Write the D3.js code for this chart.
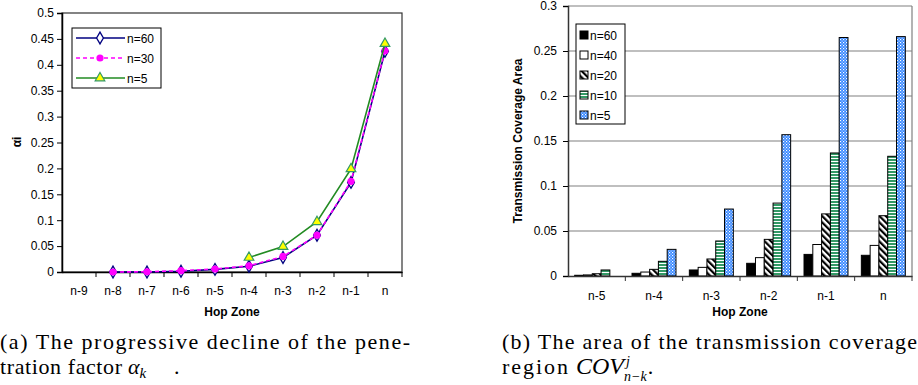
<!DOCTYPE html>
<html>
<head>
<meta charset="utf-8">
<script src="https://cdn.jsdelivr.net/npm/d3@7"></script>
<style>
  body { margin: 0; background: #fff; }
  svg { display: block; }
  .tk text { font-family: "Liberation Sans", Arial, sans-serif; font-size: 12px; fill: #000; }
  .ttl { font-family: "Liberation Sans", Arial, sans-serif; font-size: 12px; font-weight: bold; }
  .cap { font-family: "Liberation Serif", serif; font-size: 22px; }
</style>
</head>
<body>
<svg id="chart" width="918" height="385"></svg>
<script>
// ---- data: left chart (penetration factor)
var zones = ["n-9", "n-8", "n-7", "n-6", "n-5", "n-4", "n-3", "n-2", "n-1", "n"];
var alpha60 = [null, 0, 0, 0.0015, 0.005, 0.011, 0.028, 0.071, 0.173, 0.426];
var alpha30 = [null, 0, 0.0005, 0.0025, 0.0058, 0.012, 0.030, 0.071, 0.175, 0.427];
var alpha5  = [null, null, null, null, null, 0.028, 0.049, 0.097, 0.199, 0.441];
var leftTicks = [0, 0.05, 0.1, 0.15, 0.2, 0.25, 0.3, 0.35, 0.4, 0.45, 0.5];

// ---- data: right chart (coverage area)
var barZones = ["n-5", "n-4", "n-3", "n-2", "n-1", "n"];
var barSeries = ["n=60", "n=40", "n=20", "n=10", "n=5"];
var cov60 = [0.0008, 0.003, 0.0067, 0.0141, 0.024, 0.023];
var cov40 = [0.0012, 0.0044, 0.0096, 0.0204, 0.035, 0.034];
var cov20 = [0.0025, 0.0074, 0.0189, 0.0407, 0.069, 0.067];
var cov10 = [0.0067, 0.0163, 0.0389, 0.081, 0.1367, 0.133];
var cov5  = [0, 0.0296, 0.0744, 0.157, 0.265, 0.266];
var rightTicks = [0, 0.05, 0.1, 0.15, 0.2, 0.25, 0.3];

var svg = d3.select("#chart");
var fmt = function(d) { return String(+d.toFixed(2)); };

// patterns for bars
var defs = svg.append("defs");
var hatch = defs.append("pattern").attr("id", "hatch").attr("patternUnits", "userSpaceOnUse")
  .attr("width", 4.5).attr("height", 4.5).attr("patternTransform", "rotate(-45)");
hatch.append("rect").attr("width", 4.5).attr("height", 4.5).attr("fill", "#fff");
hatch.append("rect").attr("width", 2.2).attr("height", 4.5).attr("fill", "#000");

var stripes = defs.append("pattern").attr("id", "stripes").attr("patternUnits", "userSpaceOnUse")
  .attr("width", 4).attr("height", 3);
stripes.append("rect").attr("width", 4).attr("height", 3).attr("fill", "#fff");
stripes.append("rect").attr("width", 4).attr("height", 2).attr("fill", "#339966");

var checks = defs.append("pattern").attr("id", "checks").attr("patternUnits", "userSpaceOnUse")
  .attr("width", 3).attr("height", 3);
checks.append("rect").attr("width", 3).attr("height", 3).attr("fill", "#3385ff");
checks.append("rect").attr("width", 1.2).attr("height", 1.2).attr("fill", "#fff");
checks.append("rect").attr("x", 1.5).attr("y", 1.5).attr("width", 1.2).attr("height", 1.2).attr("fill", "#cfe3ff");

// ================= LEFT CHART =================
var L = {x0: 62, x1: 402, y0: 13, y1: 272};
var xL = d3.scaleBand().domain(zones).range([L.x0, L.x1]).padding(0);
var yL = d3.scaleLinear().domain([0, 0.5]).range([L.y1, L.y0]);
var gL = svg.append("g");

gL.append("rect").attr("x", L.x0).attr("y", L.y0).attr("width", L.x1 - L.x0).attr("height", L.y1 - L.y0)
  .attr("fill", "none").attr("stroke", "#333").attr("stroke-width", 1.2);

var yAxL = gL.append("g").attr("class", "tk").attr("transform", "translate(" + L.x0 + ",0)")
  .call(d3.axisLeft(yL).tickValues(leftTicks).tickFormat(fmt).tickSize(5).tickPadding(3));
yAxL.select(".domain").attr("stroke", "#000").attr("stroke-width", 1.5);

var xAxL = gL.append("g").attr("class", "tk").attr("transform", "translate(0," + L.y1 + ")")
  .call(d3.axisBottom(xL).tickSize(0).tickPadding(14));
xAxL.select(".domain").attr("stroke", "#000").attr("stroke-width", 1.5);
// tick marks on band boundaries
gL.append("g").selectAll("line").data(zones).join("line")
  .attr("x1", function(d) { return xL(d) + xL.bandwidth(); })
  .attr("x2", function(d) { return xL(d) + xL.bandwidth(); })
  .attr("y1", L.y1).attr("y2", L.y1 + 5).attr("stroke", "#000");

var cx = function(i) { return xL(zones[i]) + xL.bandwidth() / 2; };
var lineL = d3.line().defined(function(d) { return d != null; })
  .x(function(d, i) { return cx(i); }).y(function(d) { return yL(d); });

var diamond = d3.symbol().type(d3.symbolDiamond).size(40);
var tri = d3.symbol().type(d3.symbolTriangle).size(40);

function drawSeries(vals, color, dash, markerFn) {
  gL.append("path").attr("d", lineL(vals)).attr("fill", "none").attr("stroke", color)
    .attr("stroke-width", 1.6).attr("stroke-dasharray", dash);
  var pts = vals.map(function(v, i) { return {v: v, i: i}; }).filter(function(d) { return d.v != null; });
  markerFn(gL.append("g").selectAll("g").data(pts).join("g")
    .attr("transform", function(d) { return "translate(" + cx(d.i) + "," + yL(d.v) + ")"; }));
}
drawSeries(alpha60, "#000080", null, function(s) {
  s.append("path").attr("d", diamond).attr("fill", "#fff").attr("stroke", "#000080").attr("stroke-width", 1.3);
});
drawSeries(alpha30, "#ff00ff", "4,3", function(s) {
  s.append("circle").attr("r", 3.6).attr("fill", "#ff00ff");
});
drawSeries(alpha5, "#228b22", null, function(s) {
  s.append("path").attr("d", tri).attr("fill", "#ffff00").attr("stroke", "#339966").attr("stroke-width", 1.2);
});

// legend (left)
var legL = gL.append("g");
legL.append("rect").attr("x", 72).attr("y", 28).attr("width", 89).attr("height", 60)
  .attr("fill", "#fff").attr("stroke", "#000");
var legItems = [
  {name: "n=60", color: "#000080", dash: null, m: "d"},
  {name: "n=30", color: "#ff00ff", dash: "4,3", m: "c"},
  {name: "n=5", color: "#228b22", dash: null, m: "t"}
];
legItems.forEach(function(it, i) {
  var y = 38 + i * 20;
  legL.append("line").attr("x1", 76).attr("x2", 125).attr("y1", y).attr("y2", y)
    .attr("stroke", it.color).attr("stroke-width", 1.6).attr("stroke-dasharray", it.dash);
  var m = legL.append("g").attr("transform", "translate(100," + y + ")");
  if (it.m == "d") m.append("path").attr("d", diamond).attr("fill", "#fff").attr("stroke", "#000080").attr("stroke-width", 1.3);
  if (it.m == "c") m.append("circle").attr("r", 3.6).attr("fill", "#ff00ff");
  if (it.m == "t") m.append("path").attr("d", tri).attr("fill", "#ffff00").attr("stroke", "#339966").attr("stroke-width", 1.2);
  legL.append("text").attr("class", "ttl").style("font-weight", "normal").attr("x", 127).attr("y", y + 4.5).text(it.name);
});

gL.append("text").attr("class", "ttl").attr("x", 232).attr("y", 316).attr("text-anchor", "middle").text("Hop Zone");
gL.append("text").attr("class", "ttl").attr("transform", "translate(21,142) rotate(-90)")
  .attr("text-anchor", "middle").text("αi");

// ================= RIGHT CHART =================
var R = {x0: 568, x1: 912, y0: 6, y1: 276};
var xR = d3.scaleBand().domain(barZones).range([R.x0, R.x1]).paddingInner(0.233).paddingOuter(0.1165);
var xS = d3.scaleBand().domain(barSeries).range([0, xR.bandwidth()]);
var yR = d3.scaleLinear().domain([0, 0.3]).range([R.y1, R.y0]);
var gR = svg.append("g");

// gridlines
gR.append("g").selectAll("line").data(rightTicks.slice(1)).join("line")
  .attr("x1", R.x0).attr("x2", R.x1).attr("y1", function(d) { return yR(d); }).attr("y2", function(d) { return yR(d); })
  .attr("stroke", "#808080").attr("stroke-width", 1.2);
gR.append("line").attr("x1", R.x1).attr("x2", R.x1).attr("y1", R.y0).attr("y2", R.y1)
  .attr("stroke", "#808080").attr("stroke-width", 1.2);

var fills = {"n=60": "#000", "n=40": "#fff", "n=20": "url(#hatch)", "n=10": "url(#stripes)", "n=5": "url(#checks)"};
var seriesVals = {"n=60": cov60, "n=40": cov40, "n=20": cov20, "n=10": cov10, "n=5": cov5};
var bars = [];
barZones.forEach(function(z, i) {
  barSeries.forEach(function(s) {
    if (seriesVals[s][i] > 0) bars.push({zone: z, s: s, v: seriesVals[s][i]});
  });
});
gR.append("g").selectAll("rect").data(bars).join("rect")
  .attr("x", function(d) { return xR(d.zone) + xS(d.s); })
  .attr("y", function(d) { return yR(d.v); })
  .attr("width", xS.bandwidth())
  .attr("height", function(d) { return yR(0) - yR(d.v); })
  .attr("fill", function(d) { return fills[d.s]; })
  .attr("stroke", "#000").attr("stroke-width", 1);

var yAxR = gR.append("g").attr("class", "tk").attr("transform", "translate(" + R.x0 + ",0)")
  .call(d3.axisLeft(yR).tickValues(rightTicks).tickFormat(fmt).tickSize(5).tickPadding(6));
yAxR.select(".domain").attr("stroke", "#333").attr("stroke-width", 1.5);

var xAxR = gR.append("g").attr("class", "tk").attr("transform", "translate(0," + R.y1 + ")")
  .call(d3.axisBottom(xR).tickSize(0).tickPadding(15));
xAxR.select(".domain").attr("stroke", "#333").attr("stroke-width", 1.5);
gR.append("g").selectAll("line").data(barZones).join("line")
  .attr("x1", function(d) { return xR(d) + xR.bandwidth() + xR.step() * xR.paddingInner() / 2; })
  .attr("x2", function(d) { return xR(d) + xR.bandwidth() + xR.step() * xR.paddingInner() / 2; })
  .attr("y1", R.y1).attr("y2", R.y1 + 5).attr("stroke", "#333");

// legend (right)
var legR = gR.append("g");
legR.append("rect").attr("x", 576).attr("y", 24).attr("width", 49).attr("height", 100)
  .attr("fill", "#fff").attr("stroke", "#000");
barSeries.forEach(function(s, i) {
  var y = 35 + i * 20;
  legR.append("rect").attr("x", 580).attr("y", y - 4).attr("width", 8).attr("height", 8)
    .attr("fill", fills[s]).attr("stroke", "#000");
  legR.append("text").attr("class", "ttl").style("font-weight", "normal").attr("x", 590).attr("y", y + 4.5).text(s);
});

gR.append("text").attr("class", "ttl").attr("x", 740).attr("y", 316).attr("text-anchor", "middle").text("Hop Zone");
gR.append("text").attr("class", "ttl").attr("transform", "translate(522,141) rotate(-90)")
  .attr("text-anchor", "middle").text("Transmission Coverage Area");

// ================= CAPTIONS =================
var cap = svg.append("g").attr("class", "cap");
cap.append("text").attr("x", 0).attr("y", 349).attr("textLength", 410).attr("lengthAdjust", "spacing")
  .text("(a) The progressive decline of the pene-");
cap.append("text").attr("x", 0).attr("y", 374).attr("textLength", 122).attr("lengthAdjust", "spacing")
  .text("tration factor");
var ak = cap.append("text").attr("x", 128).attr("y", 374).style("font-style", "italic");
ak.append("tspan").text("α");
ak.append("tspan").attr("dy", 4).style("font-size", "15px").text("k");
cap.append("text").attr("x", 174).attr("y", 374).text(".");

cap.append("text").attr("x", 502).attr("y", 349).attr("textLength", 415).attr("lengthAdjust", "spacing")
  .text("(b) The area of the transmission coverage");
cap.append("text").attr("x", 502).attr("y", 374).attr("textLength", 66).attr("lengthAdjust", "spacing")
  .text("region");
var cov = cap.append("text").attr("x", 576).attr("y", 374).style("font-style", "italic")
  .style("font-size", "24px").text("COV");
var covEnd = 576 + cov.node().getComputedTextLength();
cap.append("text").attr("x", covEnd + 2).attr("y", 366).style("font-style", "italic").style("font-size", "14px").text("j");
var sub = cap.append("text").attr("x", covEnd).attr("y", 381).style("font-style", "italic").style("font-size", "14px").text("n−k");
cap.append("text").attr("x", covEnd + sub.node().getComputedTextLength() + 1).attr("y", 374).text(".");
</script>
</body>
</html>
